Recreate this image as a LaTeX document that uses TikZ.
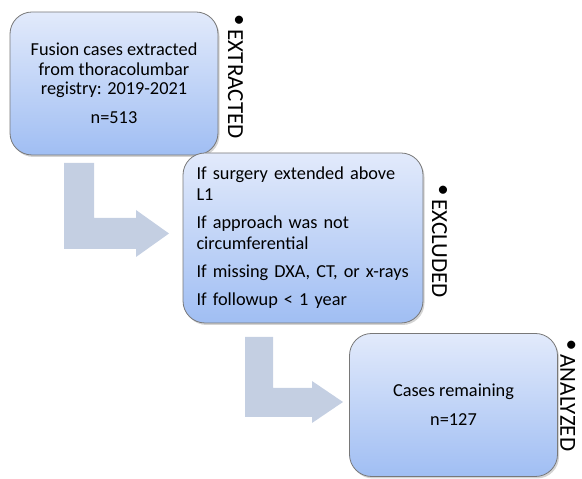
\documentclass[tikz,border=0pt]{standalone}
\usepackage{fontspec}
\setmainfont{Carlito}
\usetikzlibrary{shadows}
\definecolor{boxtop}{RGB}{226,234,251}
\definecolor{boxbot}{RGB}{160,190,243}
\definecolor{boxline}{RGB}{120,120,120}
\definecolor{arrowfill}{RGB}{196,207,226}
\tikzset{
  stagebox/.style={draw=boxline, line width=0.8pt, rounded corners=22pt,
    top color=boxtop, bottom color=boxbot,
    drop shadow={shadow xshift=1.5pt, shadow yshift=-2pt, opacity=0.35, fill=black!50},
    inner sep=0pt, font=\fontsize{18.3}{19.5}\selectfont},
  tag/.style={rotate=-90, anchor=west, inner sep=0pt, font=\fontsize{23}{25}\selectfont}
  ,bentarrow/.style={fill=arrowfill, draw=none}
}
\newcommand{\tagbullet}{\raisebox{4.5pt}{•}\hspace{4pt}}
\begin{document}
\begin{tikzpicture}[x=1pt,y=1pt]
\useasboundingbox (0,0) rectangle (582,479);
% bent block arrows
\path[bentarrow] (64,316) -- (94,316) -- (94,261) -- (136,261) -- (136,269) -- (169,245.5)
  -- (136,222) -- (136,230) -- (64,230) -- cycle;
\path[bentarrow] (245,142) -- (273,142) -- (273,91) -- (312,91) -- (312,98) -- (343,77)
  -- (312,56) -- (312,62) -- (245,62) -- cycle;
% boxes
\node[stagebox, minimum width=208pt, minimum height=143pt, align=center] (b1) at (114,395.5)
  {Fusion cases extracted\\from thoracolumbar\\registry: 2019-2021\\[9.5pt]n=513};
\node[stagebox, minimum width=240pt, minimum height=170pt, text width=213pt, align=left,
  font=\fontsize{18.3}{21}\selectfont] (b2) at (303,241)
  {If surgery extended above\\L1\\[7pt]If approach was not\\circumferential\\[7pt]If missing DXA, CT, or x-rays\\[7pt]If followup < 1 year};
\node[stagebox, minimum width=208pt, minimum height=143pt, align=center] (b3) at (453.5,74)
  {Cases remaining\\[9.5pt]n=127};
% side tags
\node[tag] (t1) at (235.5,465) {\tagbullet EXTRACTED};
\node[tag] (t2) at (439.5,295) {\tagbullet EXCLUDED};
\node[tag] (t3) at (568,140) {\tagbullet ANALYZED};
\end{tikzpicture}
\end{document}
